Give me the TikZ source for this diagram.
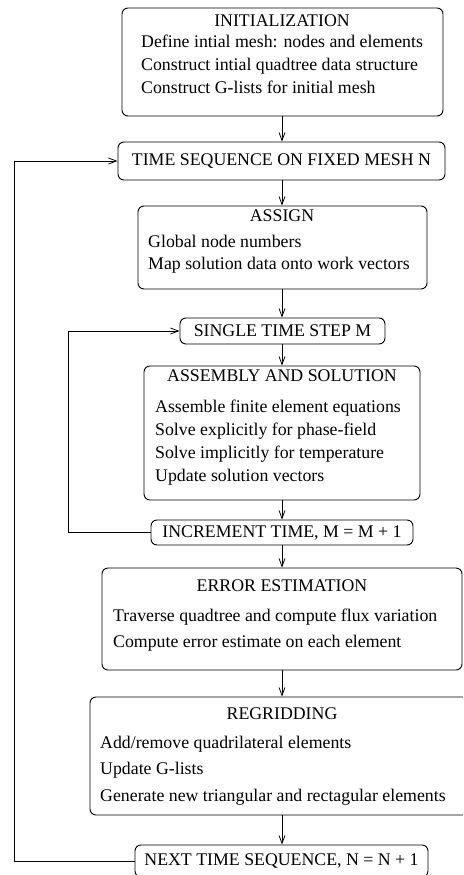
\documentclass[tikz,border=0pt]{standalone}
\usepackage{fontspec}
\setmainfont{Liberation Serif}
\usetikzlibrary{arrows.meta}
\begin{document}
\begin{tikzpicture}[x=1pt,y=-1pt,
  box/.style={draw, rounded corners=6pt, line width=0.9pt, inner sep=0pt, font=\fontsize{17.8}{20}\selectfont},
  txt/.style={font=\fontsize{17.8}{20}\selectfont, inner sep=0pt, anchor=mid west, yshift=-2pt},
  ttl/.style={font=\fontsize{17.8}{20}\selectfont, inner sep=0pt, anchor=mid, yshift=-2pt},
  arr/.style={-{Straight Barb[length=8pt,width=6pt]}, line width=0.8pt}]
\useasboundingbox (0,0) rectangle (463,875);
\clip (0,0) rectangle (463,875);
% boxes
\node[box, minimum width=321pt, minimum height=108pt] (init) at (282.5,62) {};
\node[box, minimum width=327pt, minimum height=38pt] (tseq) at (281.5,161) {TIME SEQUENCE ON FIXED MESH N};
\node[box, minimum width=289pt, minimum height=83pt] (assign) at (282.5,247.5) {};
\node[box, minimum width=205pt, minimum height=26pt] (single) at (282.5,331) {SINGLE TIME STEP M};
\node[box, minimum width=276pt, minimum height=134pt] (assem) at (282,433) {};
\node[box, minimum width=262pt, minimum height=25pt] (incr) at (282,532.5) {INCREMENT TIME, M = M + 1};
\node[box, minimum width=360pt, minimum height=102pt] (err) at (282,619) {};
\node[box, minimum width=384pt, minimum height=118pt] (regrid) at (282,756) {};
\node[box, minimum width=293pt, minimum height=32pt] (next) at (281.5,861) {NEXT TIME SEQUENCE, N = N + 1};
% texts
\node[ttl] (t1) at (282,22) {INITIALIZATION};
\node[txt] (t1a) at (141,43) {Define intial mesh: nodes and elements};
\node[txt] (t1b) at (141,66) {Construct intial quadtree data structure};
\node[txt] (t1c) at (141,89) {Construct G-lists for initial mesh};
\node[ttl] (t2) at (282,217) {ASSIGN};
\node[txt] (t2a) at (148,243) {Global node numbers};
\node[txt] (t2b) at (148,265) {Map solution data onto work vectors};
\node[ttl] (t3) at (282,377) {ASSEMBLY AND SOLUTION};
\node[txt] (t3a) at (155,408) {Assemble finite element equations};
\node[txt] (t3b) at (155,431) {Solve explicitly for phase-field};
\node[txt] (t3c) at (155,454) {Solve implicitly for temperature};
\node[txt] (t3d) at (155,477) {Update solution vectors};
\node[ttl] (t4) at (282,587) {ERROR ESTIMATION};
\node[txt] (t4a) at (113,617) {Traverse quadtree and compute flux variation};
\node[txt] (t4b) at (113,643) {Compute error estimate on each element};
\node[ttl] (t5) at (282,715) {REGRIDDING};
\node[txt] (t5a) at (100,744) {Add/remove quadrilateral elements};
\node[txt] (t5b) at (100,770) {Update G-lists};
\node[txt] (t5c) at (100,797) {Generate new triangular and rectagular elements};
% arrows
\coordinate (cx) at (282,0);
\coordinate (lx) at (14,0);
\coordinate (ix) at (68,0);
\draw[arr] (init.south -| cx) -- (tseq.north -| cx);
\draw[arr] (tseq.south -| cx) -- (assign.north -| cx);
\draw[arr] (assign.south -| cx) -- (single.north -| cx);
\draw[arr] (single.south -| cx) -- (assem.north -| cx);
\draw[arr] (assem.south -| cx) -- (incr.north -| cx);
\draw[arr] (incr.south -| cx) -- (err.north -| cx);
\draw[arr] (err.south -| cx) -- (regrid.north -| cx);
\draw[arr] (regrid.south -| cx) -- (next.north -| cx);
\draw[arr] (next.west) -- (next.west -| lx) |- (tseq.west);
\draw[arr] (incr.west) -- (incr.west -| ix) |- (single.west);
\end{tikzpicture}
\end{document}
